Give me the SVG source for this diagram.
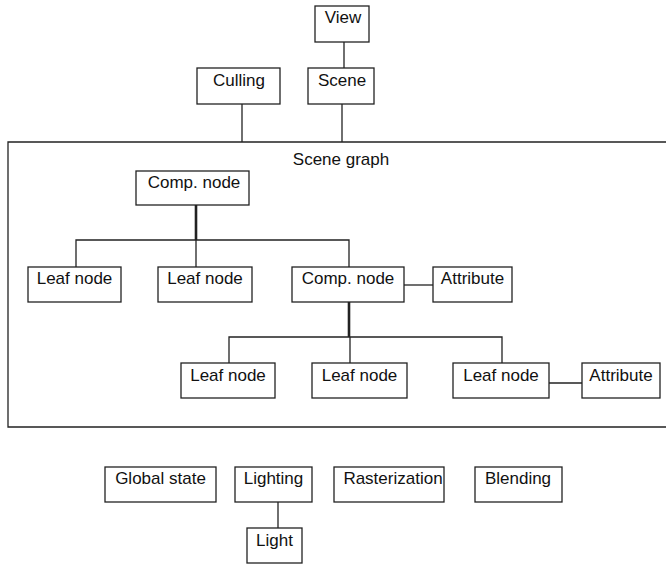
<svg xmlns="http://www.w3.org/2000/svg" width="666" height="565" viewBox="0 0 666 565">
<style>
.box{fill:#fff;stroke:#222;stroke-width:1.3}
.t{font-family:"Liberation Sans",Arial,sans-serif;font-size:17px;fill:#111;text-anchor:middle}
.c{fill:none;stroke:#222;stroke-width:1.3}
.thick{fill:none;stroke:#222;stroke-width:2.6}
</style>
<rect width="666" height="565" fill="#fff"/>
<g id="scene-graph">
<path class="c" d="M666,142 H8 V427 H666"/>
<text class="t" x="341" y="165">Scene graph</text>
</g>
<g id="connectors">
<path class="c" d="M344,42 V68"/>
<path class="c" d="M242,104 V142"/>
<path class="c" d="M342,104 V142"/>
<path class="thick" d="M196,205 V240"/>
<path class="c" d="M76,267 V240 H349 V267"/>
<path class="c" d="M196,240 V267"/>
<path class="c" d="M404,285 H433"/>
<path class="thick" d="M349,302 V337"/>
<path class="c" d="M229,363 V337 H502 V363"/>
<path class="c" d="M350,337 V363"/>
<path class="c" d="M549,383 H582"/>
<path class="c" d="M278,502 V528"/>
</g>
<g id="view"><rect class="box" x="315" y="6" width="54" height="36"/><text class="t" x="343" y="23">View</text></g>
<g id="culling"><rect class="box" x="197" y="68" width="83" height="36"/><text class="t" x="239" y="86">Culling</text></g>
<g id="scene"><rect class="box" x="308" y="68" width="66" height="36"/><text class="t" x="342" y="86">Scene</text></g>
<g id="comp1"><rect class="box" x="136" y="171" width="113" height="34"/><text class="t" x="194" y="188">Comp. node</text></g>
<g id="leaf1"><rect class="box" x="28" y="267" width="93" height="35"/><text class="t" x="74.5" y="284">Leaf node</text></g>
<g id="leaf2"><rect class="box" x="158" y="267" width="94" height="35"/><text class="t" x="205" y="284">Leaf node</text></g>
<g id="comp2"><rect class="box" x="292" y="267" width="112" height="35"/><text class="t" x="348" y="284">Comp. node</text></g>
<g id="attr1"><rect class="box" x="433" y="267" width="79" height="35"/><text class="t" x="472.5" y="284">Attribute</text></g>
<g id="leaf3"><rect class="box" x="181" y="363" width="94" height="35"/><text class="t" x="228" y="381">Leaf node</text></g>
<g id="leaf4"><rect class="box" x="312" y="363" width="95" height="35"/><text class="t" x="359.5" y="381">Leaf node</text></g>
<g id="leaf5"><rect class="box" x="453" y="363" width="96" height="35"/><text class="t" x="501" y="381">Leaf node</text></g>
<g id="attr2"><rect class="box" x="582" y="363" width="78" height="35"/><text class="t" x="621" y="381">Attribute</text></g>
<g id="global"><rect class="box" x="105" y="467" width="111" height="35"/><text class="t" x="160.5" y="484">Global state</text></g>
<g id="lighting"><rect class="box" x="235" y="467" width="77" height="35"/><text class="t" x="273.5" y="484">Lighting</text></g>
<g id="raster"><rect class="box" x="334" y="467" width="110" height="35"/><text class="t" x="393" y="484">Rasterization</text></g>
<g id="blending"><rect class="box" x="475" y="467" width="87" height="35"/><text class="t" x="518" y="484">Blending</text></g>
<g id="light"><rect class="box" x="247" y="528" width="55" height="35"/><text class="t" x="274.5" y="546">Light</text></g>
</svg>
